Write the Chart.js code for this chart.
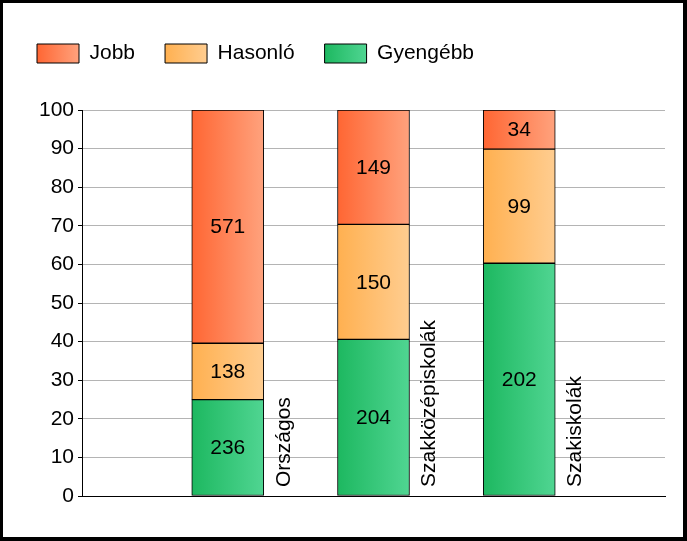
<!DOCTYPE html>
<html>
<head>
<meta charset="utf-8">
<script src="https://cdn.jsdelivr.net/npm/chart.js@4.4.0/dist/chart.umd.min.js"></script>
<style>
  html, body { margin: 0; padding: 0; background: #fff; }
  #wrap { width: 687px; height: 541px; box-sizing: border-box; border: solid #000; border-width: 3px 4px 4px 3px; }
  canvas { display: block; }
</style>
</head>
<body>
<div id="wrap"><canvas id="chart" width="680" height="534"></canvas></div>
<script>
// categories and counts (bars are drawn as percentage of the category total)
var categories = ["Országos", "Szakközépiskolák", "Szakiskolák"];
var jobb = [571, 149, 34];
var hasonlo = [138, 150, 99];
var gyengebb = [236, 204, 202];
var yTicks = [0, 10, 20, 30, 40, 50, 60, 70, 80, 90, 100];

var FONT = "'Liberation Sans', Arial, sans-serif";
var BAR_W = 72;

var totals = categories.map(function (c, i) { return jobb[i] + hasonlo[i] + gyengebb[i]; });
function toPoints(counts) {
    return counts.map(function (v, i) { return { x: i + 1, y: v / totals[i] * 100, count: v }; });
}

function barGradient(c1, c2) {
    return function (ctx) {
        var chart = ctx.chart;
        if (!chart.scales.x || ctx.type !== "data" || !ctx.parsed) return c1;
        var cx = chart.scales.x.getPixelForValue(ctx.parsed.x);
        if (!isFinite(cx)) return c1;
        var g = chart.ctx.createLinearGradient(cx - BAR_W / 2, 0, cx + BAR_W / 2, 0);
        g.addColorStop(0, c1);
        g.addColorStop(1, c2);
        return g;
    };
}

var colors = [
    ["#1db860", "#50d592"],
    ["#ffb050", "#ffcd90"],
    ["#ff6633", "#ffa27d"]
];

// legend spacing, gradients in legend boxes, values and rotated category names
var extras = {
    id: "extras",
    beforeLayout: function (chart) {
        var lg = chart.legend;
        if (lg && !lg._patched) {
            var fit = lg.fit;
            lg.fit = function () { fit.call(this); this.height += 36; };
            lg._patched = true;
        }
    },
    beforeDraw: function (chart) {
        var lg = chart.legend;
        if (!lg || !lg.legendItems || !lg.legendHitBoxes) return;
        lg.legendItems.forEach(function (item, i) {
            var hb = lg.legendHitBoxes[i];
            if (!hb || !isFinite(hb.left)) return;
            var c = colors[item.datasetIndex];
            var g = chart.ctx.createLinearGradient(hb.left, 0, hb.left + 42, 0);
            g.addColorStop(0, c[0]);
            g.addColorStop(1, c[1]);
            item.fillStyle = g;
        });
    },
    afterDatasetsDraw: function (chart) {
        var ctx = chart.ctx;
        ctx.save();
        ctx.fillStyle = "#000";
        ctx.font = "21px " + FONT;
        ctx.textAlign = "center";
        ctx.textBaseline = "middle";
        chart.data.datasets.forEach(function (ds, di) {
            chart.getDatasetMeta(di).data.forEach(function (bar, i) {
                ctx.fillText(String(ds.data[i].count), bar.x, (bar.y + bar.base) / 2 + 1);
            });
        });
        var xs = chart.scales.x;
        categories.forEach(function (name, i) {
            var x = xs.getPixelForValue(i + 1) + BAR_W / 2 + 20;
            var y = chart.chartArea.bottom - 9;
            ctx.save();
            ctx.translate(x, y);
            ctx.rotate(-Math.PI / 2);
            ctx.textAlign = "left";
            ctx.textBaseline = "middle";
            ctx.fillText(name, 0, 0);
            ctx.restore();
        });
        ctx.restore();
    }
};

var ctx = document.getElementById("chart").getContext("2d");
new Chart(ctx, {
    type: "bar",
    data: {
        datasets: [
            { label: "Gyengébb", data: toPoints(gyengebb), backgroundColor: barGradient(colors[0][0], colors[0][1]) },
            { label: "Hasonló", data: toPoints(hasonlo), backgroundColor: barGradient(colors[1][0], colors[1][1]) },
            { label: "Jobb", data: toPoints(jobb), backgroundColor: barGradient(colors[2][0], colors[2][1]) }
        ]
    },
    options: {
        responsive: false,
        animation: false,
        devicePixelRatio: 1,
        layout: { padding: { left: 4, right: 18, top: 10, bottom: 33 } },
        datasets: {
            bar: { barThickness: BAR_W, borderColor: "#000", borderWidth: 1, borderSkipped: false }
        },
        plugins: {
            tooltip: { enabled: false },
            legend: {
                position: "top",
                align: "start",
                reverse: true,
                labels: {
                    boxWidth: 42,
                    boxHeight: 19,
                    padding: 30,
                    color: "#000",
                    font: { family: FONT, size: 21 }
                }
            }
        },
        scales: {
            x: {
                type: "linear",
                min: 0,
                max: 4,
                offset: false,
                stacked: true,
                ticks: { display: false },
                grid: { display: false },
                border: { display: true, color: "#000", width: 1 }
            },
            y: {
                stacked: true,
                min: 0,
                max: 100,
                afterFit: function (scale) { scale.width = 75; },
                afterBuildTicks: function (scale) {
                    scale.ticks = yTicks.map(function (v) { return { value: v }; });
                },
                ticks: {
                    color: "#000",
                    padding: 4,
                    font: { family: FONT, size: 21 }
                },
                grid: { color: "#b4b4b4", tickLength: 4, tickColor: "#000" },
                border: { display: true, color: "#000", width: 1 }
            }
        }
    },
    plugins: [extras]
});
</script>
</body>
</html>
